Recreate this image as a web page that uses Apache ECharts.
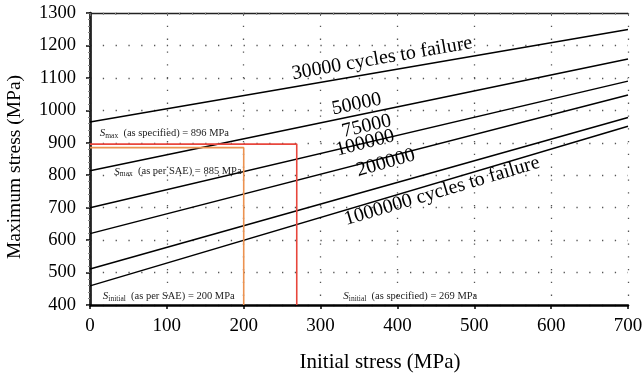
<!DOCTYPE html>
<html><head><meta charset="utf-8">
<script src="https://cdn.jsdelivr.net/npm/echarts@6/dist/echarts.min.js"></script>
<style>html,body{margin:0;padding:0;background:#fff}#c{width:643px;height:375px}</style>
</head><body><div id="c"></div>
<script>
// Data
var xTicks = [0, 100, 200, 300, 400, 500, 600, 700];
var yTicks = [400, 500, 600, 700, 800, 900, 1000, 1100, 1200, 1300];
var curveNames = ['30000', '50000', '75000', '100000', '200000', '1000000'];
var curveStartX = [0, 0, 0, 0, 0, 0];
var curveEndX = [700, 700, 700, 700, 700, 700];
var curveStartY = [964, 814, 700, 620, 511, 459];
var curveEndY = [1249, 1158, 1090, 1047, 978, 951];
var curveLabels = ['30000 cycles to failure', '50000', '75000', '100000', '200000', '1000000 cycles to failure'];
var curveLabelX = [380, 347, 360, 358, 385, 458];
var curveLabelY = [1160, 1019, 951, 899, 838, 751];
var curveLabelRot = [9.8, 11.8, 13.2, 14.5, 15.8, 16.6];
var specPath = [[0, 896], [269, 896], [269, 400]];
var saePath = [[0, 885], [200, 885], [200, 400]];

var serif = '"Liberation Serif", "DejaVu Serif", serif';
var chart = echarts.init(document.getElementById('c'), null, {renderer: 'canvas'});

function richText(sub, rest) {
  return '{s|S}{sub|' + sub + '}{t|  ' + rest + '}';
}
var rich = {
  s: {fontFamily: serif, fontStyle: 'italic', fontSize: 11, color: '#222'},
  sub: {fontFamily: serif, fontSize: 7.5, color: '#222', padding: [5, 0, 0, 0]},
  t: {fontFamily: serif, fontSize: 10.5, color: '#222'}
};

function mp(coord, text, extra) {
  var lab = {show: true, formatter: text};
  for (var k in extra) lab[k] = extra[k];
  return {coord: coord, value: 0, symbol: 'circle', symbolSize: 1,
    itemStyle: {color: 'rgba(0,0,0,0)'}, label: lab};
}

var series = [];
for (var i = 0; i < curveNames.length; i++) {
  series.push({
    type: 'line', name: curveNames[i], symbol: 'none', silent: true,
    lineStyle: {color: '#000', width: 1.5},
    data: [[curveStartX[i], curveStartY[i]], [curveEndX[i], curveEndY[i]]],
    markPoint: {
      silent: true,
      data: [mp([curveLabelX[i], curveLabelY[i]], curveLabels[i],
        {position: 'inside', rotate: curveLabelRot[i], fontFamily: serif, fontSize: 20, color: '#000'})]
    }
  });
}
series.push({
  type: 'line', symbol: 'none', silent: true, data: specPath,
  lineStyle: {color: '#e8463c', width: 1.6},
  markPoint: {silent: true, data: [
    mp([12, 930], richText('max', '(as specified) = 896 MPa'), {position: 'right', distance: 0, rich: rich}),
    mp([329, 426], richText('initial', '(as specified) = 269 MPa'), {position: 'right', distance: 0, rich: rich})
  ]}
});
series.push({
  type: 'line', symbol: 'none', silent: true, data: saePath,
  lineStyle: {color: '#ec9250', width: 1.6},
  markPoint: {silent: true, data: [
    mp([31, 811], richText('max', '(as per SAE) = 885 MPa'), {position: 'right', distance: 0, rich: rich}),
    mp([16, 426], richText('initial', '(as per SAE) = 200 MPa'), {position: 'right', distance: 0, rich: rich})
  ]}
});

var dotted = {show: true, lineStyle: {color: '#555', width: 1.3, type: [1.3, 11.5]}};
function plain(v) { return String(v); }

chart.setOption({
  animation: false,
  backgroundColor: '#fff',
  grid: {left: 90, right: 15, top: 13, bottom: 70, containLabel: false, outerBoundsMode: 'none'},
  xAxis: [{
    type: 'value', min: xTicks[0], max: xTicks[xTicks.length - 1], interval: 100,
    name: 'Initial stress (MPa)', nameLocation: 'middle', nameGap: 47,
    nameTextStyle: {fontFamily: serif, fontSize: 21, color: '#000', padding: [0, 0, 0, 42]},
    axisLine: {show: true, onZero: false, lineStyle: {color: '#000', width: 2.5}},
    axisTick: {show: true, inside: false, length: 4, lineStyle: {color: '#000', width: 1.5}},
    axisLabel: {fontFamily: serif, fontSize: 19, color: '#000', margin: 12, formatter: plain},
    splitLine: dotted
  }, {
    type: 'value', position: 'top', min: xTicks[0], max: xTicks[xTicks.length - 1], interval: 100,
    axisLine: {show: true, lineStyle: {color: '#222', width: 1.3}},
    axisTick: {show: true, inside: true, length: 3, lineStyle: {color: '#666'}},
    minorTick: {show: true, splitNumber: 6, length: 2, lineStyle: {color: '#888'}},
    axisLabel: {show: false}, splitLine: {show: false}
  }],
  yAxis: [{
    type: 'value', min: yTicks[0], max: yTicks[yTicks.length - 1], interval: 100,
    name: 'Maximum stress (MPa)', nameLocation: 'middle', nameGap: 65,
    nameTextStyle: {fontFamily: serif, fontSize: 19.5, color: '#000', padding: [0, 16, 0, 0]},
    axisLine: {show: true, onZero: false, lineStyle: {color: '#000', width: 2.5}},
    axisTick: {show: true, inside: false, length: 4, lineStyle: {color: '#000', width: 1.5}},
    axisLabel: {fontFamily: serif, fontSize: 18.5, color: '#000', margin: 14, formatter: plain},
    splitLine: dotted
  }, {
    type: 'value', position: 'right', min: yTicks[0], max: yTicks[yTicks.length - 1], interval: 100,
    axisLine: {show: true, lineStyle: {color: '#222', width: 1.3}},
    axisTick: {show: true, inside: true, length: 3, lineStyle: {color: '#666'}},
    minorTick: {show: true, splitNumber: 5, length: 2, lineStyle: {color: '#888'}},
    axisLabel: {show: false}, splitLine: {show: false}
  }],
  series: series
});
</script></body></html>
